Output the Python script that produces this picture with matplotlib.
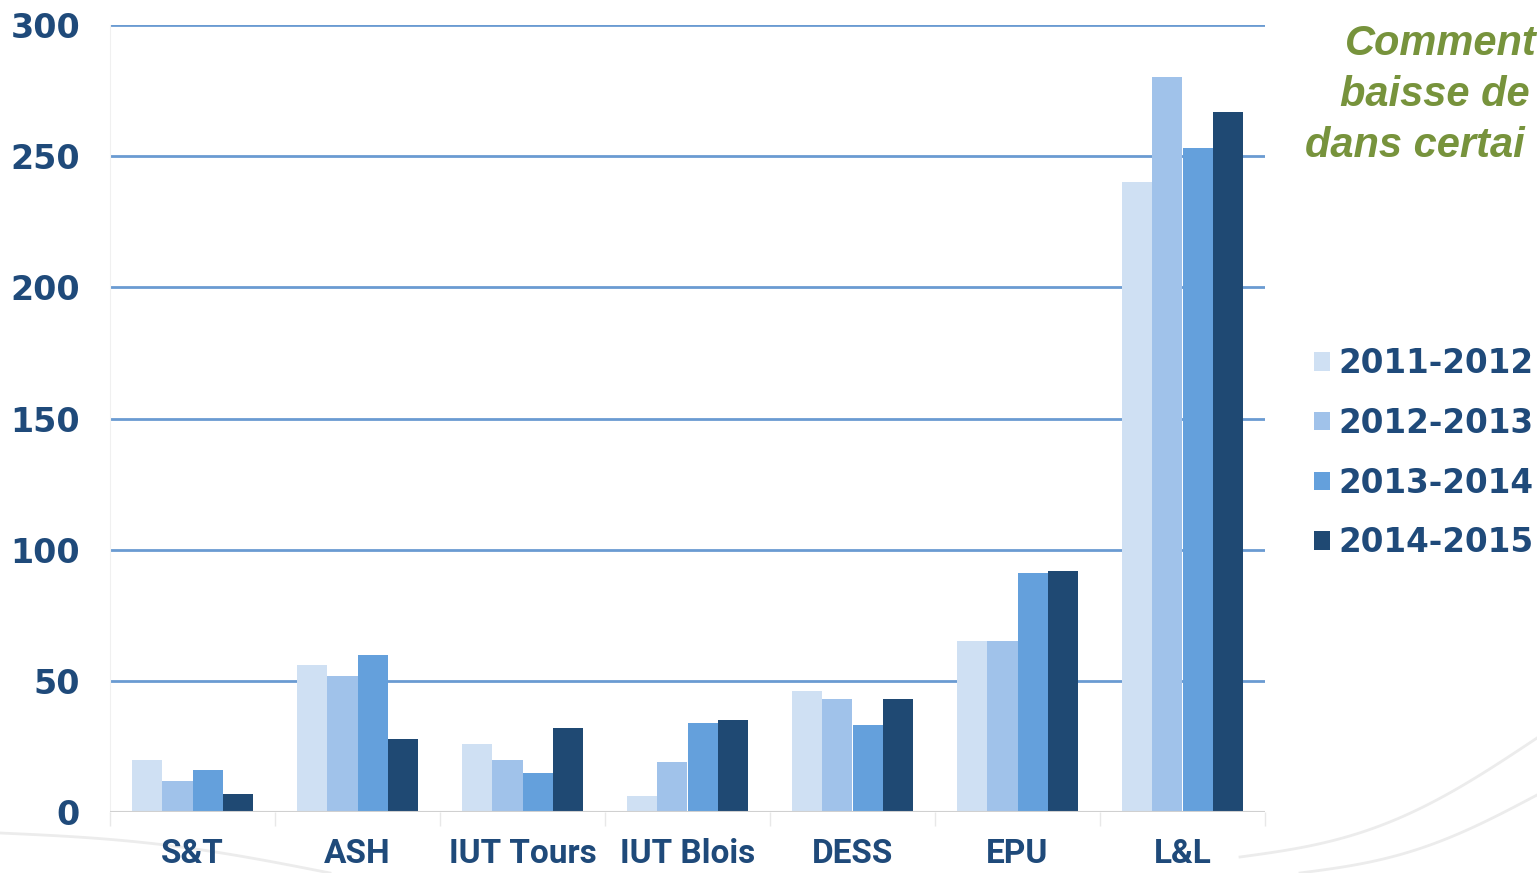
import numpy as np
import matplotlib.pyplot as plt
from matplotlib.patches import Patch
from matplotlib.lines import Line2D

categories = ['S&T', 'ASH', 'IUT Tours', 'IUT Blois', 'DESS', 'EPU', 'L&L']
years = ['2011-2012', '2012-2013', '2013-2014', '2014-2015']
v_2011 = [20, 56, 26, 6, 46, 65, 240]
v_2012 = [12, 52, 20, 19, 43, 65, 280]
v_2013 = [16, 60, 15, 34, 33, 91, 253]
v_2014 = [7, 28, 32, 35, 43, 92, 267]
series = [v_2011, v_2012, v_2013, v_2014]
colors = ['#cfe0f3', '#a0c2ea', '#64a0dc', '#1f4973']

txt_blue = '#1f4a7a'
grid_blue = '#6a9bd2'
W, H = 1537, 873

fig = plt.figure(figsize=(W/100, H/100), dpi=100)

# faint background swooshes
t = np.linspace(0, 1, 50)
for x0, y0, x1, y1, bend in [(1240, 857, 1537, 738, 25), (1300, 873, 1537, 795, 15), (0, 833, 330, 873, -8)]:
    xs = x0 + (x1 - x0)*t
    ys = y0 + (y1 - y0)*t + bend*np.sin(np.pi*t)
    fig.add_artist(Line2D(xs/W, 1 - ys/H, color='#ececec', lw=2, zorder=0))

ax = fig.add_axes([110/W, 1-812/H, 1155/W, 787/H])
ax.patch.set_alpha(0)

x = np.arange(len(categories))
w = 0.182
for i, vals in enumerate(series):
    ax.bar(x + (i - 1.5)*w, vals, w, color=colors[i], zorder=3, label=years[i])

ax.set_xlim(-0.5, len(categories) - 0.5)
ax.set_ylim(0, 300)
ax.set_yticks(np.arange(0, 301, 50))
for y in np.arange(50, 301, 50):
    ax.axhline(y, color=grid_blue, lw=2, zorder=1)
ax.axhline(0, color='#d0d0d0', lw=1.5, zorder=4)

for s in ax.spines.values():
    s.set_visible(False)
ax.spines['left'].set_visible(True)
ax.spines['left'].set_color('#f0f0f0')

ax.set_xticks(x)
ax.set_xticklabels(categories)
ax.set_xticks(np.arange(-0.5, len(categories), 1), minor=True)
ax.tick_params(axis='x', which='major', length=0, pad=19)
ax.tick_params(axis='x', which='minor', length=10, color='#e8e8e8', width=1)
ax.tick_params(axis='y', length=0, pad=21.6)
for lab in ax.get_yticklabels():
    lab.set_fontsize(24)
    lab.set_fontweight('bold')
    lab.set_color(txt_blue)
    lab.set_family('DejaVu Sans')
for lab in ax.get_xticklabels():
    lab.set_fontsize(24)
    lab.set_fontweight('bold')
    lab.set_color(txt_blue)
    lab.set_family('Roboto')

handles = [Patch(facecolor=c, edgecolor='none') for c in colors]
leg = fig.legend(handles, years, loc='upper left', bbox_to_anchor=(1314/W, 1-347/H),
                 frameon=False, borderpad=0, borderaxespad=0, handlelength=0.5,
                 handleheight=0.5, handletextpad=0.25, labelspacing=0.82,
                 prop={'family': 'DejaVu Sans', 'weight': 'bold', 'size': 23.5})
for tx in leg.get_texts():
    tx.set_color(txt_blue)

green = '#77933c'
title_lines = [('Comment', 1345, 55), ('baisse de', 1340, 106), ('dans certai', 1305, 157)]
for s, px, py in title_lines:
    fig.text(px/W, 1-py/H, s, ha='left', va='baseline', fontsize=30,
             family='Liberation Sans', weight='bold', style='italic', color=green)

fig.savefig('out.png', dpi=100)
